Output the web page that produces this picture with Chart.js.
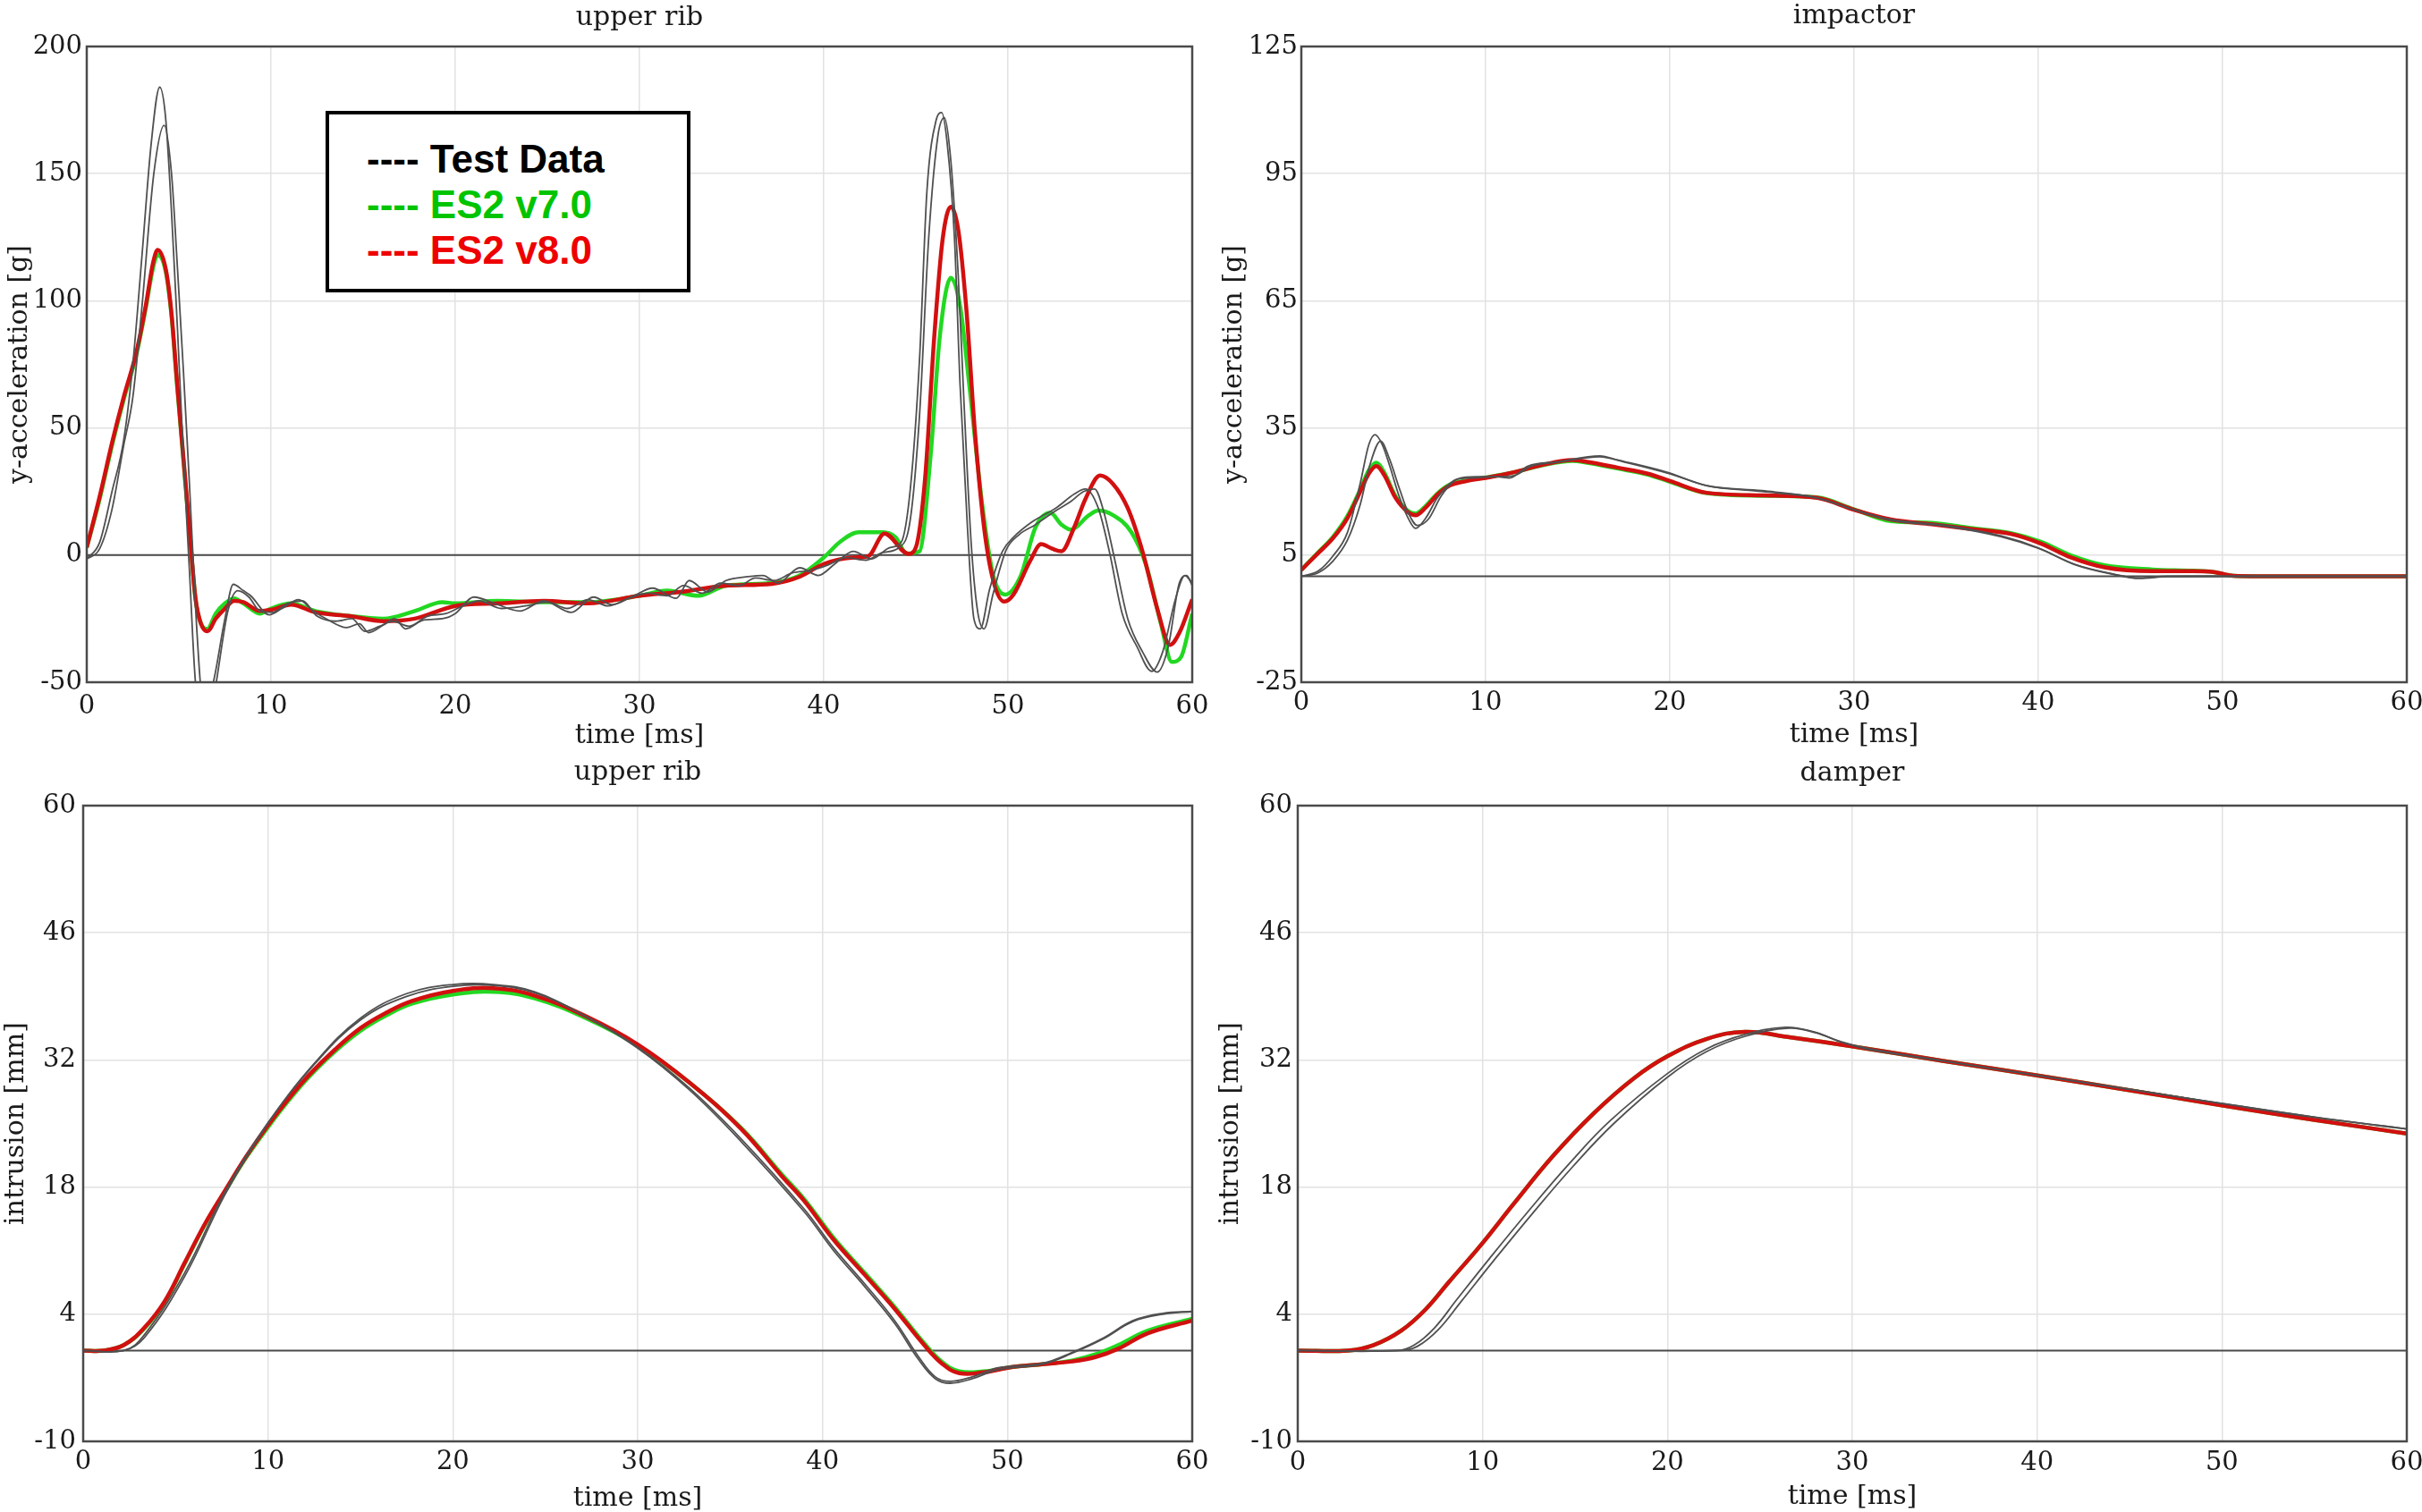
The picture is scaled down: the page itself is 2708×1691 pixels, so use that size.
<!DOCTYPE html>
<html>
<head>
<meta charset="utf-8">
<title>ES2 rib and impactor responses</title>
<script src="https://cdn.jsdelivr.net/npm/chart.js@4.4.1/dist/chart.umd.min.js"></script>
<style>
    html, body { margin: 0; padding: 0; background: #fff; }
    body { width: 2708px; height: 1691px; position: relative; overflow: hidden; }
    canvas { position: absolute; }
    #legend {
        position: absolute; left: 364px; top: 124px; width: 408px; height: 203px;
        box-sizing: border-box; border: 4px solid #000; background: #fff;
        padding: 24px 0 0 42px;
        font-family: "Liberation Sans", Arial, sans-serif; font-weight: bold; font-size: 44px;
        line-height: 51px; white-space: pre;
    }
</style>
</head>
<body>
<canvas id="ribAcc" width="1354" height="845" style="left:0;top:0"></canvas>
<canvas id="impactor" width="1354" height="845" style="left:1354px;top:0"></canvas>
<canvas id="ribIntrusion" width="1354" height="846" style="left:0;top:845px"></canvas>
<canvas id="damper" width="1354" height="846" style="left:1354px;top:845px"></canvas>
<div id="legend"></div>
<script>
// series names / colours
const seriesNames = ['Test Data', 'ES2 v7.0', 'ES2 v8.0'];
const lineColors = ['#505050', '#22d822', '#d21010'];
const legendColors = ['#000000', '#00c400', '#ee0000'];

// shared time axis [min, max, step] and the zero line
const timeRange = [0, 60, 10];
const zeroTime = [0, 60];
const zeroLine = [0, 0];

// upper rib, y-acceleration [g]
const ribAccRange = [-50, 200, 50];
const ribAccT1Time = [0, 0.7, 1.37, 2.0, 2.5, 3.0, 3.5, 3.96, 4.28, 4.6, 4.93, 5.25, 5.58, 5.9, 6.3, 6.87, 7.5, 7.95, 8.5, 8.9, 9.9, 10.6, 11.5, 12.3, 13.1, 14.1, 14.8, 15.3, 16.1, 16.7, 17.3, 18.3, 19.3, 20, 21, 22.3, 23.5, 24.8, 26.3, 27.5, 28.5, 29.7, 30.7, 32, 32.7, 33.7, 34.7, 35.9, 36.7, 37.5, 38.7, 39.7, 40.6, 41.6, 42.6, 43.6, 44.2, 44.7, 45.2, 45.6, 46.1, 46.4, 46.7, 47.1, 47.4, 47.8, 48.15, 48.5, 49, 49.7, 50.3, 51.3, 52.6, 53.6, 54.2, 54.9, 55.5, 56.2, 57, 57.8, 58.4, 59.1, 59.6, 60];
const ribAccT1 = [-1.5, 5, 25, 45, 75, 118, 162, 184, 172, 135, 88, 38, -7, -50, -62, -50, -25, -11.5, -14, -16, -23.5, -21, -17.5, -22, -25.5, -28.5, -27, -30.5, -27.5, -25, -29, -25.5, -25, -23, -16.5, -19.5, -22, -18, -22.5, -16.5, -19.5, -16, -13, -17, -10, -14.5, -10, -8.5, -8, -11, -5, -8, -3.5, 1.5, -1.5, 3, 5, 26, 77, 143, 171, 174, 162, 124, 67, 11, -25, -29, -13.5, 1.5, 7, 13, 18.5, 24, 26, 18.5, 1.5, -23, -36, -45.7, -38, -17, -8, -11];
const ribAccT2Time = [0, 0.7, 1.37, 2.0, 2.5, 3.0, 3.64, 4.2, 4.6, 4.93, 5.25, 5.58, 5.9, 6.22, 6.6, 7.03, 7.66, 8.2, 8.8, 9.4, 10.1, 10.9, 11.7, 12.5, 13.5, 14.4, 15.1, 15.9, 16.6, 17.5, 18.5, 19.5, 20.4, 21.3, 22.5, 23.8, 25, 26.1, 27.2, 28.3, 29.4, 30.5, 31.5, 32.4, 33.4, 34.4, 35.4, 36.3, 37.3, 38.3, 39.3, 40.2, 41.2, 42.3, 43.2, 44.1, 44.7, 45.2, 45.7, 46.2, 46.55, 46.9, 47.3, 47.6, 48.0, 48.35, 48.7, 49.2, 49.9, 50.6, 51.5, 52.5, 53.4, 54.1, 54.7, 55.2, 55.8, 56.5, 57.3, 58.1, 58.7, 59.3, 59.7, 60];
const ribAccT2 = [-1.5, 2.5, 18, 43, 62, 98, 150, 169, 150, 112, 72, 27, -20, -55, -68, -50, -22, -14, -16.5, -22, -22.5, -19, -18, -24, -26, -25, -30, -28, -26, -28, -24, -23, -20, -18, -21, -20, -18.5, -21, -17.5, -20, -17, -15, -16, -12, -15, -11, -12, -9, -10, -7, -6, -4, -1, -2, 1, 3, 14, 55, 125, 165, 172, 155, 110, 62, 5, -22, -29, -15, 2, 8, 12, 17, 21, 25, 26, 17, -2, -25, -38, -46, -36, -11, -8, -12];
const ribAccV7Time = [0, 0.7, 1.4, 2.0, 2.7, 3.2, 3.6, 3.85, 4.3, 4.6, 4.9, 5.25, 5.6, 5.9, 6.2, 6.55, 7.0, 7.5, 8.0, 8.5, 9.4, 10, 11.1, 12.4, 14.3, 16.1, 17.8, 19.3, 20, 22.3, 24.8, 27.2, 30, 31.5, 33.2, 34.7, 37.2, 38.7, 40, 40.9, 41.9, 43.2, 43.9, 44.5, 45.2, 45.8, 46.3, 46.9, 47.4, 47.9, 48.6, 49.2, 49.85, 50.7, 51.5, 52.3, 52.9, 53.4, 54.4, 54.9, 55.7, 56.7, 57.5, 58.3, 58.9, 59.4, 60];
const ribAccV7 = [3, 22, 44, 61, 79, 97, 113, 118, 111, 94, 67, 37, 7, -17, -27, -29, -23, -19, -17, -19, -23, -21, -19, -22, -24, -25, -22, -18.5, -19, -18, -18.5, -18.5, -16, -14, -16, -12, -11, -8, -1, 5.3, 9, 9, 7, 0.6, 1.5, 39, 86, 109, 98, 67, 20, -8, -15.5, -8, 11, 16.6, 12, 10, 15.7, 17.5, 15.7, 9, -4, -27, -42, -40, -23];
const ribAccV8Time = [0, 0.7, 1.4, 2.0, 2.7, 3.2, 3.6, 3.85, 4.3, 4.6, 4.9, 5.25, 5.6, 5.9, 6.2, 6.55, 7.0, 7.5, 8.0, 8.5, 9.4, 10, 11.1, 12.4, 14.3, 16.1, 17.8, 20, 22.3, 24.8, 27.2, 30, 32.2, 34.7, 37.2, 38.7, 40, 41.5, 42.4, 43.3, 44.6, 45.0, 45.5, 46.0, 46.45, 46.9, 47.3, 47.75, 48.2, 48.7, 49.2, 49.8, 50.3, 51.2, 51.8, 52.4, 52.9, 53.6, 54.2, 55.0, 55.7, 56.5, 57.3, 58.1, 58.8, 59.3, 60];
const ribAccV8 = [3, 23, 45, 62, 80, 98, 115, 120, 112, 95, 68, 38, 8, -17, -27, -30, -25, -21, -18, -18.5, -22, -21.5, -19.5, -22.5, -24, -26, -25, -20, -19, -18, -19, -16, -14.5, -12, -11.3, -8.5, -3.5, -1, -0.5, 8.5, 0.5, 3, 30, 86, 124, 137, 128, 96, 49, 11, -10, -18.3, -15.5, -2.3, 4.3, 2.5, 1.5, 11, 22, 31.3, 28, 18.5, 1.5, -21, -35.3, -30.6, -17.4];

// impactor, y-acceleration [g]
const impRange = [-25, 125, 30];
const impT1Time = [0, 0.9, 1.7, 2.5, 3.2, 3.66, 4.0, 4.4, 4.8, 5.3, 5.8, 6.2, 6.75, 7.4, 8.4, 9.3, 10.6, 11.3, 12.3, 13.9, 16.2, 17.2, 19.8, 22, 25, 28, 30, 32, 35, 38, 40, 42, 44, 45.5, 47, 50, 60];
const impT1 = [0, 1.2, 4.7, 10.3, 22, 31, 33.4, 31, 26, 19, 13.7, 11.3, 13.7, 18.6, 22.8, 23.2, 23.5, 23.2, 26, 27, 28.4, 27.4, 24.6, 21.4, 20.2, 18.5, 15.7, 13.4, 12, 9.5, 6.7, 2.7, 0.5, -0.5, -0.1, 0, 0];
const impT2Time = [0, 0.9, 1.7, 2.5, 3.2, 3.7, 4.3, 4.8, 5.3, 5.8, 6.3, 6.9, 7.6, 8.5, 9.5, 10.6, 11.5, 12.5, 14, 16.2, 17.5, 20, 22, 25, 28, 30, 32, 35, 38, 40, 42, 44, 45.5, 47, 50, 60];
const impT2 = [0, 0.8, 3.5, 8.5, 17, 26, 31.9, 27.5, 21, 15, 12, 13.5, 19, 23, 23.5, 23.5, 23.7, 26, 27, 28.2, 27, 24.2, 21.4, 20, 18.5, 15.7, 13.2, 11.8, 9.3, 6.6, 2.8, 0.6, -0.4, 0, 0, 0];
const impModelTime = [0, 0.9, 1.7, 2.5, 3.2, 3.66, 4.07, 4.5, 5.1, 5.8, 6.2, 6.75, 7.4, 8.05, 9, 10, 11.6, 13.1, 14.7, 15.5, 17.2, 18.8, 20, 22, 25, 28, 30, 32, 34.2, 36.3, 38.5, 40.1, 41.8, 43.6, 46.2, 48.4, 49.5, 50.6, 52, 60];
const impV7 = [1.5, 5.6, 9.2, 14.2, 20.5, 25, 26.8, 24.5, 19, 15.4, 14.8, 16.6, 19.6, 21.6, 22.6, 23.3, 24.6, 26.2, 27.2, 26.8, 25.4, 24, 22.3, 19.6, 19.0, 18.6, 15.8, 13.0, 12.6, 11.4, 10.2, 8.2, 4.9, 2.6, 1.6, 1.3, 1.0, 0.1, 0, 0];
const impV8 = [1.5, 5.4, 8.9, 13.7, 20, 24.2, 26, 23.9, 18.6, 15.1, 14.4, 16.2, 19.3, 21.4, 22.5, 23.2, 24.6, 26.3, 27.4, 27, 25.6, 24.2, 22.5, 19.7, 19.1, 18.5, 15.7, 13.4, 12.3, 11.2, 10, 7.8, 4.4, 2.1, 1.2, 1.2, 1.0, 0.1, 0, 0];

// upper rib, intrusion [mm]
const ribIntRange = [-10, 60, 14];
const ribIntTestTime = [0, 2.2, 3.3, 5.5, 7.7, 10, 12.5, 15, 17.5, 20, 22.2, 24.4, 27, 30, 32.8, 35.6, 39, 40.6, 42.3, 43.9, 45.2, 46.1, 46.9, 48.1, 49.5, 51.9, 53.5, 55.2, 56.8, 58.4, 60];
const ribIntT1 = [0, 0, 1.7, 8.6, 17.6, 25.1, 31.5, 36.4, 39, 40.1, 40.2, 39.4, 37, 33.4, 28.9, 23.3, 15.6, 11.3, 7.3, 3.3, -0.7, -2.9, -3.4, -2.9, -1.9, -1.4, -0.2, 1.4, 3.3, 4.1, 4.3];
const ribIntT2 = [0, 0, 1.4, 8.2, 17.3, 25, 31.6, 36.6, 39.3, 40.3, 40.3, 39.5, 37, 33.3, 28.7, 23, 15.3, 11, 7, 3, -1, -3.1, -3.6, -3.1, -2.1, -1.5, -0.3, 1.3, 3.2, 4, 4.3];
const ribIntModelTime = [0, 1.1, 2.2, 3.3, 4.4, 5.5, 6.6, 7.7, 8.8, 10, 11.1, 12.2, 13.6, 15, 16.4, 17.8, 20, 22.2, 24.4, 27.2, 30, 32.8, 35.6, 37.8, 39, 40.6, 42.3, 43.9, 45.5, 46.5, 47.4, 48.7, 50.3, 51.9, 53.5, 54.8, 56, 57.6, 60];
const ribIntV7 = [0, 0, 0.6, 2.4, 5.3, 9.6, 13.9, 17.6, 21.2, 24.6, 27.5, 30.1, 32.9, 35.2, 36.9, 38.2, 39.2, 39.5, 38.8, 36.6, 33.6, 29.5, 24.5, 19.4, 16.7, 12.4, 8.5, 4.8, 0.8, -1.3, -2.3, -2.3, -1.8, -1.5, -1.1, -0.4, 0.6, 2.2, 3.5];
const ribIntV8 = [0, 0, 0.6, 2.5, 5.4, 9.7, 14.0, 17.7, 21.3, 24.8, 27.7, 30.3, 33.1, 35.5, 37.2, 38.5, 39.6, 39.9, 39.1, 36.8, 33.7, 29.5, 24.4, 19.2, 16.5, 12.2, 8.3, 4.6, 0.6, -1.5, -2.5, -2.4, -1.8, -1.5, -1.2, -0.7, 0.2, 1.9, 3.3];

// damper, intrusion [mm]
const dampRange = [-10, 60, 14];
const dampT1Time = [0, 5.4, 6.3, 7.4, 8.6, 10.4, 12.5, 14.7, 16.9, 20, 22.1, 24.2, 26.4, 27.9, 29.4, 31, 34.9, 40, 45.2, 50, 55, 60];
const dampT1 = [0, 0, 0.6, 2.5, 5.6, 10.2, 15.4, 20.6, 25.3, 30.5, 33.2, 34.8, 35.6, 35.1, 34, 33.2, 31.9, 30.3, 28.7, 27.2, 25.7, 24.4];
const dampT2Time = [0, 5.6, 6.5, 7.6, 8.8, 10.6, 12.7, 14.9, 17.1, 20, 22.1, 24.2, 26.6, 28, 29.5, 31, 34.9, 40, 45.2, 50, 55, 60];
const dampT2 = [0, 0, 0.5, 2.3, 5.3, 9.9, 15.1, 20.3, 25.0, 30.1, 32.9, 34.6, 35.5, 35, 33.9, 33.1, 31.9, 30.3, 28.7, 27.2, 25.7, 24.4];
const dampModelTime = [0, 2.7, 4.1, 5.6, 6.9, 8.2, 9.9, 11.7, 13.8, 16, 18.2, 20, 22.1, 24.2, 26.6, 30, 34.9, 40, 45.2, 50, 55, 60];
const dampV7 = [0, 0, 0.6, 2.2, 4.5, 7.6, 11.6, 16.2, 21.4, 26.1, 30, 32.4, 34.3, 35.1, 34.5, 33.5, 31.9, 30.3, 28.6, 27, 25.4, 23.9];
const dampV8 = [0, 0, 0.6, 2.2, 4.5, 7.6, 11.6, 16.2, 21.4, 26.1, 30, 32.4, 34.3, 35.1, 34.5, 33.5, 31.9, 30.3, 28.6, 27, 25.4, 23.9];

const serif = 'DejaVu Serif';
const ink = '#1a1a1a';

function toPoints(times, values) {
    return times.map((t, i) => ({x: t, y: values[i]}));
}

function curve(label, color, width, points, smooth) {
    const ds = {
        label: label,
        data: points,
        borderColor: color,
        backgroundColor: color,
        borderWidth: width,
        pointRadius: 0,
        fill: false
    };
    // oscillating signals keep their peaks, smooth ones get a bezier
    if (smooth) ds.tension = 0.4;
    else ds.cubicInterpolationMode = 'monotone';
    return ds;
}

// plot frame on all four sides
const frame = {
    id: 'frame',
    afterDraw(chart) {
        const a = chart.chartArea;
        const ctx = chart.ctx;
        ctx.save();
        ctx.strokeStyle = '#4a4a4a';
        ctx.lineWidth = 2.5;
        ctx.strokeRect(a.left, a.top, a.right - a.left, a.bottom - a.top);
        ctx.restore();
    }
};

function panelChart(id, panel, box) {
    const sm = panel.smooth;
    const data = {
        datasets: [
            curve(seriesNames[0], lineColors[0], 1.8, toPoints(panel.t1[0], panel.t1[1]), sm),
            curve(seriesNames[0], lineColors[0], 1.8, toPoints(panel.t2[0], panel.t2[1]), sm),
            curve(seriesNames[2], lineColors[2], 4.5, toPoints(panel.v8[0], panel.v8[1]), sm),
            curve(seriesNames[1], lineColors[1], 4.5, toPoints(panel.v7[0], panel.v7[1]), sm),
            curve('zero', '#4a4a4a', 2, toPoints(zeroTime, zeroLine), false)
        ]
    };
    const grid = {color: '#e2e2e2', lineWidth: 1.5, drawTicks: false};
    const config = {
        type: 'line',
        data: data,
        options: {
            responsive: false,
            animation: false,
            devicePixelRatio: 1,
            events: [],
            layout: {padding: {left: 0, top: 0, bottom: 0, right: box.right}},
            plugins: {
                legend: {display: false},
                tooltip: {enabled: false},
                title: {
                    display: true,
                    text: panel.title,
                    fullSize: false,
                    color: ink,
                    font: {family: serif, size: 30, weight: 'normal', lineHeight: 1},
                    padding: {top: box.titleTop, bottom: box.titleBottom}
                }
            },
            scales: {
                x: {
                    type: 'linear',
                    min: timeRange[0],
                    max: timeRange[1],
                    ticks: {stepSize: timeRange[2], padding: box.xTick, color: ink, maxRotation: 0, autoSkip: false,
                        font: {family: serif, size: 29}},
                    grid: grid,
                    border: {display: false},
                    title: {display: true, text: 'time [ms]', color: ink,
                        font: {family: serif, size: 30, lineHeight: 1},
                        padding: {top: 0, bottom: box.xTitle}},
                    afterFit(s) {
                        s.height = box.xHeight;
                        s.paddingLeft = 0;
                        s.paddingRight = 0;
                    }
                },
                y: {
                    type: 'linear',
                    min: panel.range[0],
                    max: panel.range[1],
                    ticks: {stepSize: panel.range[2], padding: box.yTick, color: ink,
                        font: {family: serif, size: 29}},
                    grid: grid,
                    border: {display: false},
                    title: {display: true, text: panel.yTitle, color: ink,
                        font: {family: serif, size: 30, lineHeight: 1},
                        padding: {top: box.yTitle, bottom: 0}},
                    afterFit(s) {
                        s.width = box.yWidth;
                        s.paddingTop = 0;
                        s.paddingBottom = 0;
                    }
                }
            }
        },
        plugins: [frame]
    };
    let ctx = document.getElementById(id).getContext('2d');
    new Chart(ctx, config);
}

panelChart('ribAcc', {
    title: 'upper rib', yTitle: 'y-acceleration [g]', range: ribAccRange, smooth: false,
    t1: [ribAccT1Time, ribAccT1], t2: [ribAccT2Time, ribAccT2],
    v7: [ribAccV7Time, ribAccV7], v8: [ribAccV8Time, ribAccV8]
}, {right: 21, titleTop: 5, titleBottom: 17, xHeight: 82, yWidth: 97, xTick: 10, xTitle: 7, yTick: 5, yTitle: 7});

panelChart('impactor', {
    title: 'impactor', yTitle: 'y-acceleration [g]', range: impRange, smooth: false,
    t1: [impT1Time, impT1], t2: [impT2Time, impT2],
    v7: [impModelTime, impV7], v8: [impModelTime, impV8]
}, {right: 17, titleTop: 3, titleBottom: 19, xHeight: 82, yWidth: 101, xTick: 6, xTitle: 8, yTick: 4, yTitle: 11});

panelChart('ribIntrusion', {
    title: 'upper rib', yTitle: 'intrusion [mm]', range: ribIntRange, smooth: true,
    t1: [ribIntTestTime, ribIntT1], t2: [ribIntTestTime, ribIntT2],
    v7: [ribIntModelTime, ribIntV7], v8: [ribIntModelTime, ribIntV8]
}, {right: 21, titleTop: 4, titleBottom: 22, xHeight: 79, yWidth: 93, xTick: 6, xTitle: 0, yTick: 8, yTitle: 3});

panelChart('damper', {
    title: 'damper', yTitle: 'intrusion [mm]', range: dampRange, smooth: true,
    t1: [dampT1Time, dampT1], t2: [dampT2Time, dampT2],
    v7: [dampModelTime, dampV7], v8: [dampModelTime, dampV8]
}, {right: 17, titleTop: 5, titleBottom: 21, xHeight: 79, yWidth: 97, xTick: 7, xTitle: 2, yTick: 6, yTitle: 7});

// legend box in the first panel
const legend = document.getElementById('legend');
seriesNames.forEach((name, i) => {
    const row = document.createElement('div');
    row.style.color = legendColors[i];
    row.textContent = '---- ' + name;
    legend.appendChild(row);
});
</script>
</body>
</html>
